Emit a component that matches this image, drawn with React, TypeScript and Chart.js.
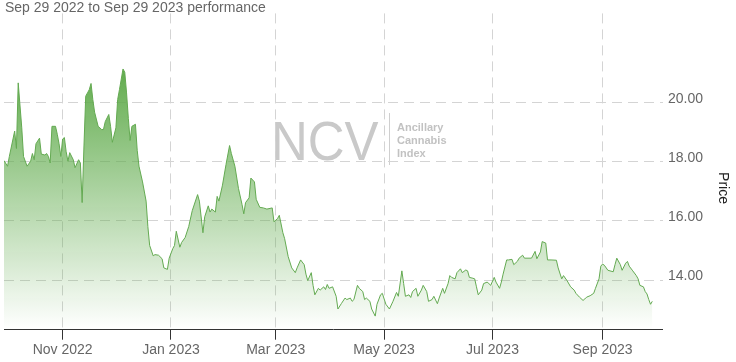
import React, { useEffect, useRef } from "react";
import { Chart, registerables } from "chart.js";

Chart.register(...registerables);

const titleText = "Sep 29 2022 to Sep 29 2023 performance";
const seriesName = "Price";
const watermarkMain = "NCV";
const watermarkSub = ["Ancillary", "Cannabis", "Index"];

const axisStart = "2022-09-29";
const axisEnd = "2023-10-05";
const yMin = 12.32;
const yMax = 23.02;
const yTicks = [14, 16, 18, 20];
const tickDates = ["2022-11-01", "2023-01-01", "2023-03-01", "2023-05-01", "2023-07-01", "2023-09-01"];
const tickLabels = ["Nov 2022", "Jan 2023", "Mar 2023", "May 2023", "Jul 2023", "Sep 2023"];

const dates = [
  "2022-09-29","2022-10-01","2022-10-02","2022-10-05","2022-10-06","2022-10-07","2022-10-09","2022-10-10","2022-10-12","2022-10-14",
  "2022-10-15","2022-10-16","2022-10-17","2022-10-19","2022-10-20","2022-10-22","2022-10-23","2022-10-24","2022-10-25","2022-10-26",
  "2022-10-28","2022-10-29","2022-10-30","2022-10-31","2022-11-01","2022-11-02","2022-11-03","2022-11-04","2022-11-05","2022-11-07",
  "2022-11-08","2022-11-10","2022-11-11","2022-11-12","2022-11-13","2022-11-14","2022-11-15","2022-11-16","2022-11-17","2022-11-18",
  "2022-11-19","2022-11-21","2022-11-23","2022-11-24","2022-11-25","2022-11-27","2022-11-28","2022-11-29","2022-12-01","2022-12-02",
  "2022-12-03","2022-12-05","2022-12-06","2022-12-07","2022-12-08","2022-12-09","2022-12-10","2022-12-12","2022-12-13","2022-12-14",
  "2022-12-16","2022-12-18","2022-12-19","2022-12-20","2022-12-22","2022-12-23","2022-12-25","2022-12-27","2022-12-28","2022-12-30",
  "2022-12-31","2023-01-02","2023-01-03","2023-01-04","2023-01-06","2023-01-07","2023-01-09","2023-01-11","2023-01-13","2023-01-16",
  "2023-01-17","2023-01-19","2023-01-20","2023-01-22","2023-01-23","2023-01-24","2023-01-26","2023-01-27","2023-01-28","2023-01-30",
  "2023-02-01","2023-02-03","2023-02-04","2023-02-06","2023-02-08","2023-02-10","2023-02-11","2023-02-12","2023-02-14","2023-02-15",
  "2023-02-17","2023-02-18","2023-02-20","2023-02-22","2023-02-24","2023-02-27","2023-02-28","2023-03-02","2023-03-03","2023-03-05",
  "2023-03-06","2023-03-08","2023-03-10","2023-03-12","2023-03-13","2023-03-15","2023-03-17","2023-03-18","2023-03-19","2023-03-21",
  "2023-03-22","2023-03-23","2023-03-25","2023-03-26","2023-03-28","2023-03-29","2023-03-30","2023-03-31","2023-04-02","2023-04-04",
  "2023-04-05","2023-04-07","2023-04-09","2023-04-10","2023-04-12","2023-04-13","2023-04-14","2023-04-16","2023-04-17","2023-04-19",
  "2023-04-20","2023-04-21","2023-04-23","2023-04-24","2023-04-26","2023-04-27","2023-04-29","2023-04-30","2023-05-02","2023-05-04",
  "2023-05-06","2023-05-08","2023-05-09","2023-05-11","2023-05-12","2023-05-13","2023-05-15","2023-05-16","2023-05-17","2023-05-19",
  "2023-05-20","2023-05-22","2023-05-23","2023-05-25","2023-05-26","2023-05-28","2023-05-29","2023-05-31","2023-06-01","2023-06-03",
  "2023-06-04","2023-06-06","2023-06-07","2023-06-08","2023-06-10","2023-06-11","2023-06-13","2023-06-14","2023-06-16","2023-06-17",
  "2023-06-18","2023-06-20","2023-06-21","2023-06-22","2023-06-23","2023-06-25","2023-06-26","2023-06-28","2023-06-29","2023-06-30",
  "2023-07-02","2023-07-03","2023-07-05","2023-07-06","2023-07-07","2023-07-09","2023-07-10","2023-07-12","2023-07-13","2023-07-15",
  "2023-07-16","2023-07-18","2023-07-19","2023-07-21","2023-07-23","2023-07-25","2023-07-26","2023-07-28","2023-07-29","2023-07-31",
  "2023-08-01","2023-08-03","2023-08-06","2023-08-07","2023-08-09","2023-08-10","2023-08-12","2023-08-14","2023-08-16","2023-08-17",
  "2023-08-19","2023-08-21","2023-08-22","2023-08-23","2023-08-25","2023-08-27","2023-08-28","2023-08-30","2023-08-31","2023-09-01",
  "2023-09-02","2023-09-04","2023-09-07","2023-09-08","2023-09-09","2023-09-11","2023-09-12","2023-09-14","2023-09-15","2023-09-16",
  "2023-09-18","2023-09-20","2023-09-21","2023-09-22","2023-09-24","2023-09-25","2023-09-26","2023-09-27","2023-09-28","2023-09-29",
];

const prices = [
  18.04,17.85,18.18,19.04,18.45,20.67,19.15,18.18,17.85,18.02,
  18.28,18.07,18.61,18.80,18.26,18.23,18.28,18.18,17.96,19.20,
  19.20,18.93,18.61,18.18,18.77,18.82,18.34,18.02,18.31,18.07,
  17.80,18.07,17.96,16.62,18.50,20.22,20.33,20.44,20.65,20.11,
  19.68,19.20,19.09,19.09,19.36,19.60,19.20,18.66,19.15,20.11,
  20.44,21.14,21.03,20.33,19.47,18.72,19.20,19.27,18.39,17.85,
  17.32,16.67,15.81,15.17,14.82,14.86,14.84,14.72,14.41,14.36,
  14.74,15.06,15.17,15.65,15.11,15.27,15.44,15.81,16.35,16.89,
  16.67,15.60,16.14,16.51,16.30,16.40,16.30,16.83,16.67,17.21,
  17.91,18.55,18.28,17.85,17.10,16.56,16.24,16.62,16.78,17.45,
  17.32,16.73,16.46,16.44,16.40,16.44,15.97,16.08,16.19,15.60,
  15.40,14.79,14.41,14.25,14.41,14.68,14.52,14.20,13.98,14.25,
  13.82,13.50,13.72,13.66,13.77,13.68,13.85,13.72,13.77,13.45,
  13.02,13.21,13.39,13.34,13.39,13.28,13.34,13.82,13.72,13.61,
  13.34,13.39,13.28,13.02,12.78,13.18,13.50,13.55,13.18,13.02,
  13.28,13.58,13.45,14.31,13.88,13.45,13.50,13.41,13.61,13.72,
  13.45,13.66,13.82,13.61,13.28,13.34,13.45,13.20,13.39,13.72,
  13.55,13.88,14.15,14.09,14.04,14.25,14.38,14.25,14.34,14.31,
  14.09,14.06,14.04,13.77,13.50,13.66,13.88,13.93,13.88,13.82,
  14.09,13.93,13.72,13.93,14.20,14.68,14.68,14.70,14.52,14.63,
  14.74,14.84,14.74,14.74,14.74,14.97,14.72,14.95,15.30,15.25,
  14.68,14.68,14.67,14.41,14.04,14.15,13.98,13.77,13.66,13.55,
  13.42,13.31,13.36,13.42,13.47,13.55,13.72,14.04,14.47,14.54,
  14.50,14.33,14.28,14.52,14.74,14.52,14.33,14.57,14.63,14.47,
  14.31,14.15,14.04,13.82,13.77,13.61,13.53,13.34,13.18,13.28,
];

const FONT = '"Liberation Sans", Arial, Helvetica, sans-serif';

const toUTC = (s: string) => {
  const [y, m, d] = s.split("-").map(Number);
  return Date.UTC(y, m - 1, d);
};
const dayOf = (s: string) => Math.round((toUTC(s) - toUTC(axisStart)) / 86400000);

const overlayPlugin = {
  id: "overlay",
  beforeDraw(chart: any) {
    const c = chart.ctx;
    c.save();
    // watermark logo
    c.fillStyle = "#c9c9c9";
    c.textBaseline = "alphabetic";
    c.textAlign = "left";
    c.save();
    c.translate(271, 160);
    c.scale(0.91, 1);
    c.font = `56px ${FONT}`;
    c.fillText(watermarkMain, 0, 0);
    c.restore();
    c.strokeStyle = "#cfcfcf";
    c.lineWidth = 1;
    c.beginPath();
    c.moveTo(389.5, 113);
    c.lineTo(389.5, 165);
    c.stroke();
    c.fillStyle = "#c2c2c2";
    c.font = `bold 11px ${FONT}`;
    watermarkSub.forEach((t, i) => c.fillText(t, 397, 131 + i * 13));
    c.restore();
  },
  afterDraw(chart: any) {
    const c = chart.ctx;
    c.save();
    c.fillStyle = "#666666";
    c.font = `14px ${FONT}`;
    c.textAlign = "left";
    c.textBaseline = "alphabetic";
    c.fillText(titleText, 5, 12);
    // axis title
    c.translate(723, 188);
    c.rotate(Math.PI / 2);
    c.fillStyle = "#222222";
    c.textAlign = "center";
    c.textBaseline = "middle";
    c.font = `14px ${FONT}`;
    c.fillText(seriesName, 0, 0);
    c.restore();
  },
};

export default function App() {
  const ref = useRef<HTMLCanvasElement | null>(null);

  useEffect(() => {
    document.body.style.margin = "0";
    const canvas = ref.current;
    if (!canvas) return;
    const points = dates.map((d, i) => ({ x: dayOf(d), y: prices[i] }));
    const maxPrice = Math.max(...prices);
    const tickDays = tickDates.map(dayOf);

    const chart = new Chart(canvas, {
      type: "line",
      data: {
        datasets: [
          {
            label: seriesName,
            data: points,
            borderColor: "#64aa52",
            borderWidth: 1,
            pointRadius: 0,
            tension: 0,
            fill: "start",
            backgroundColor: (ctx: any) => {
              const ch = ctx.chart;
              const area = ch.chartArea;
              if (!area || !ch.scales.y) return "rgba(98,174,80,0.4)";
              const top = ch.scales.y.getPixelForValue(maxPrice);
              const g = ch.ctx.createLinearGradient(0, top, 0, area.bottom);
              g.addColorStop(0, "rgba(98,172,78,1)");
              g.addColorStop(1, "rgba(98,172,78,0)");
              return g;
            },
          },
        ],
      },
      options: {
        animation: false,
        responsive: false,
        maintainAspectRatio: false,
        layout: { padding: { left: 4, right: 28, top: 0, bottom: 1.5 } },
        plugins: {
          legend: { display: false },
          tooltip: { enabled: false },
          title: { display: false },
        },
        scales: {
          x: {
            type: "linear",
            position: "bottom",
            min: dayOf(axisStart),
            max: dayOf(axisEnd),
            afterBuildTicks: (scale: any) => {
              scale.ticks = tickDays.map((v) => ({ value: v }));
            },
            ticks: {
              autoSkip: false,
              maxRotation: 0,
              padding: 2,
              color: "#666666",
              font: { family: FONT, size: 14 },
              callback: (v: any) => {
                const i = tickDays.indexOf(Number(v));
                return i >= 0 ? tickLabels[i] : "";
              },
            },
            grid: {
              display: true,
              color: "#d4d4d4",
              lineWidth: 1,
              drawTicks: true,
              tickLength: 10,
              tickColor: "#333333",
              tickWidth: 1,
              tickBorderDash: [],
            },
            border: { display: true, color: "#333333", width: 1, dash: [10, 6] },
          },
          y: {
            type: "linear",
            position: "right",
            min: yMin,
            max: yMax,
            afterBuildTicks: (scale: any) => {
              scale.ticks = yTicks.map((v) => ({ value: v }));
            },
            ticks: {
              padding: 5,
              labelOffset: -4,
              color: "#666666",
              font: { family: FONT, size: 14 },
              callback: (v: any) => Number(v).toFixed(2),
            },
            grid: {
              display: true,
              color: "#d4d4d4",
              lineWidth: 1,
              drawTicks: false,
            },
            border: { display: false, dash: [10, 6] },
          },
        },
      },
      plugins: [overlayPlugin],
    } as any);

    return () => chart.destroy();
  }, []);

  return (
    <div style={{ width: 736, height: 362 }}>
      <canvas ref={ref} width={736} height={362} style={{ display: "block", width: 736, height: 362 }} />
    </div>
  );
}
